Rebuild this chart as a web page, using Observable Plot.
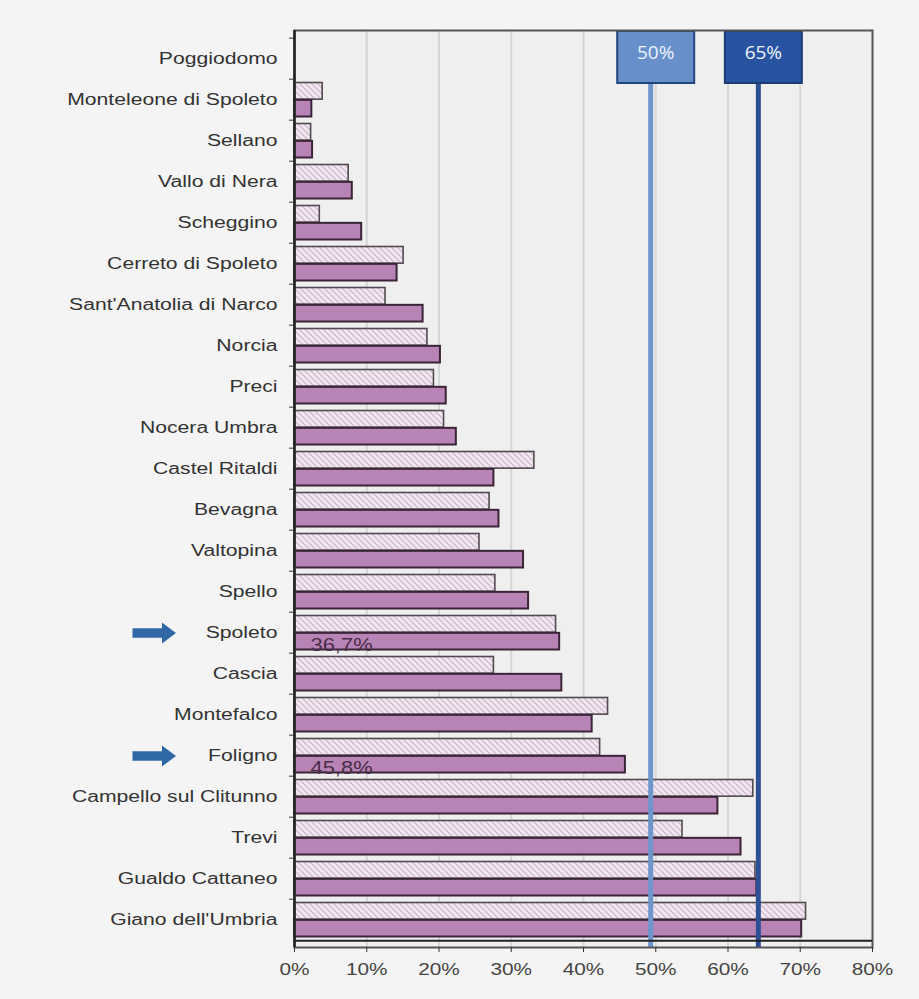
<!DOCTYPE html>
<html>
<head>
<meta charset="utf-8">
<script src="https://cdn.jsdelivr.net/npm/d3@7"></script>
<script src="https://cdn.jsdelivr.net/npm/@observablehq/plot@0.6"></script>
<style>
  html, body { margin: 0; padding: 0; background: #f4f4f4; }
  #chart svg { display: block; }
</style>
</head>
<body>
<div id="chart"></div>
<script>
// ---- data ----
const comuni = [
  "Poggiodomo", "Monteleone di Spoleto", "Sellano", "Vallo di Nera", "Scheggino",
  "Cerreto di Spoleto", "Sant'Anatolia di Narco", "Norcia", "Preci", "Nocera Umbra",
  "Castel Ritaldi", "Bevagna", "Valtopina", "Spello", "Spoleto", "Cascia",
  "Montefalco", "Foligno", "Campello sul Clitunno", "Trevi", "Gualdo Cattaneo",
  "Giano dell'Umbria"
];
// hatched (upper) bar of each row, %
const valoriTratteggio = [null, 3.9, 2.3, 7.5, 3.5, 15.1, 12.6, 18.4, 19.3, 20.7, 33.2, 27.0,
  25.6, 27.8, 36.2, 27.6, 43.4, 42.3, 63.5, 53.7, 63.8, 70.8];
// solid (lower) bar of each row, %
const valoriPieni = [null, 2.4, 2.5, 8.0, 9.3, 14.2, 17.8, 20.2, 21.0, 22.4, 27.6, 28.3,
  31.7, 32.4, 36.7, 37.0, 41.2, 45.8, 58.6, 61.8, 64.0, 70.2];
const evidenziati = ["Spoleto", "Foligno"];
const etichetteEvidenziati = ["36,7%", "45,8%"];
const soglie = [49.3, 64.2];
const etichetteSoglie = ["50%", "65%"];
const xTicks = [0, 10, 20, 30, 40, 50, 60, 70, 80];

// ---- layout ----
const W = 919, H = 999, mT = 30, mB = 52, mL = 294, mR = 47;
const plotH = H - mT - mB;
const bw = plotH / comuni.length;

const rowsT = comuni.map((c, i) => ({comune: c, v: valoriTratteggio[i]})).filter(d => d.v != null);
const rowsP = comuni.map((c, i) => ({comune: c, v: valoriPieni[i]})).filter(d => d.v != null);
const sogliaData = soglie.map((v, i) => ({v, label: etichetteSoglie[i]}));
const evidData = evidenziati.map((c, i) => ({comune: c, label: etichetteEvidenziati[i]}));

const sogliaColori = [
  {line: "#6d96cd", box: "#6790cb", border: "#244680"},
  {line: "#2c4f95", box: "#2753a0", border: "#1b3b73"}
];

const arrowSymbol = {
  draw(ctx) {
    ctx.moveTo(-21.5, -4.8);
    ctx.lineTo(8, -4.8);
    ctx.lineTo(8, -10.5);
    ctx.lineTo(22, 0);
    ctx.lineTo(8, 10.5);
    ctx.lineTo(8, 4.8);
    ctx.lineTo(-21.5, 4.8);
    ctx.closePath();
  }
};

const sogliaMarks = sogliaData.flatMap((d, i) => {
  const c = sogliaColori[i];
  return [
    Plot.ruleX([d], {x: "v", stroke: c.line, strokeWidth: 5, insetTop: 53}),
    Plot.ruleX([d], {x: "v", stroke: c.border, strokeWidth: 79, insetBottom: plotH - 54, dx: 5}),
    Plot.ruleX([d], {x: "v", stroke: c.box, strokeWidth: 75, insetTop: 2, insetBottom: plotH - 52, dx: 5}),
    Plot.text([d], {x: "v", text: "label", frameAnchor: "top", lineAnchor: "middle", dy: 22, dx: 5,
      fill: "#eef3fb", fontSize: 19, fontFamily: "'Open Sans', sans-serif"})
  ];
});

const chart = Plot.plot({
  width: W, height: H,
  marginTop: mT, marginBottom: mB, marginLeft: mL, marginRight: mR,
  style: {background: "transparent", fontFamily: "'Liberation Sans', Arial, sans-serif", overflow: "visible"},
  x: {domain: [0, 80], axis: null},
  y: {domain: comuni, axis: null, padding: 0},
  marks: [
    Plot.frame({fill: "#efefef"}),
    Plot.ruleX(xTicks.slice(1, -1), {stroke: "#d6d6d6", strokeWidth: 2}),
    Plot.barX(rowsT, {x: "v", y: "comune", fill: "url(#tratteggio)", stroke: "#514a50",
      strokeWidth: 1.6, insetTop: 3.5, insetBottom: bw / 2}),
    Plot.barX(rowsP, {x: "v", y: "comune", fill: "#b884b5", stroke: "#3a2538",
      strokeWidth: 2, insetTop: bw / 2, insetBottom: 3.5}),
    ...sogliaMarks,
    Plot.frame({stroke: "#555", strokeWidth: 2}),
    Plot.ruleX([0], {stroke: "#222", strokeWidth: 2.5}),
    Plot.ruleY([comuni[comuni.length - 1]], {dy: bw / 2, stroke: "#222", strokeWidth: 2}),
    Plot.axisY({tickSize: 5, tickFormat: () => "", dy: -bw / 2, stroke: "#333", label: null}),
    Plot.axisY({tickSize: 0, tickPadding: 17, fontSize: 16, fill: "#333", label: null}),
    Plot.axisX({ticks: xTicks, tickFormat: d => d + "%", tickSize: 5, tickPadding: 11,
      fontSize: 16, fill: "#444", stroke: "#333", label: null}),
    Plot.dot(evidData, {y: "comune", frameAnchor: "left", dx: -140.5, symbol: arrowSymbol,
      fill: "#3068a6", stroke: "none", r: 10}),
    Plot.text(evidData, {y: "comune", text: "label", frameAnchor: "left", textAnchor: "start",
      dx: 16, dy: 12, fill: "#4a2d48", fontSize: 19})
  ]
});

// hatch pattern for the upper bars
const defs = document.createElementNS("http://www.w3.org/2000/svg", "defs");
defs.innerHTML = `<pattern id="tratteggio" patternUnits="userSpaceOnUse" width="6" height="6">
  <rect width="6" height="6" fill="#f2e6f0"></rect>
  <path d="M-1,-1 L7,7 M-1,5 L1,7 M5,-1 L7,1" stroke="#cbb5c8" stroke-width="1.2"></path>
</pattern>`;
chart.prepend(defs);

document.getElementById("chart").append(chart);

// the reference text is horizontally wide: stretch glyphs
const xLabelTexts = new Set(xTicks.map(d => d + "%"));
chart.querySelectorAll("text").forEach(t => {
  const s = (t.textContent || "").trim();
  const g = t.parentNode;
  const fam = (g && g.getAttribute && (g.getAttribute("font-family") || "")) || "";
  if (fam.includes("Open Sans")) return;
  let k = 0;
  if (comuni.includes(s)) k = 1.32;
  else if (etichetteEvidenziati.includes(s)) k = 1.15;
  else if (xLabelTexts.has(s)) k = 1.3;
  if (!k) return;
  const w = t.getBBox().width;
  if (w > 0) {
    t.setAttribute("textLength", (w * k).toFixed(1));
    t.setAttribute("lengthAdjust", "spacingAndGlyphs");
  }
});
</script>
</body>
</html>
